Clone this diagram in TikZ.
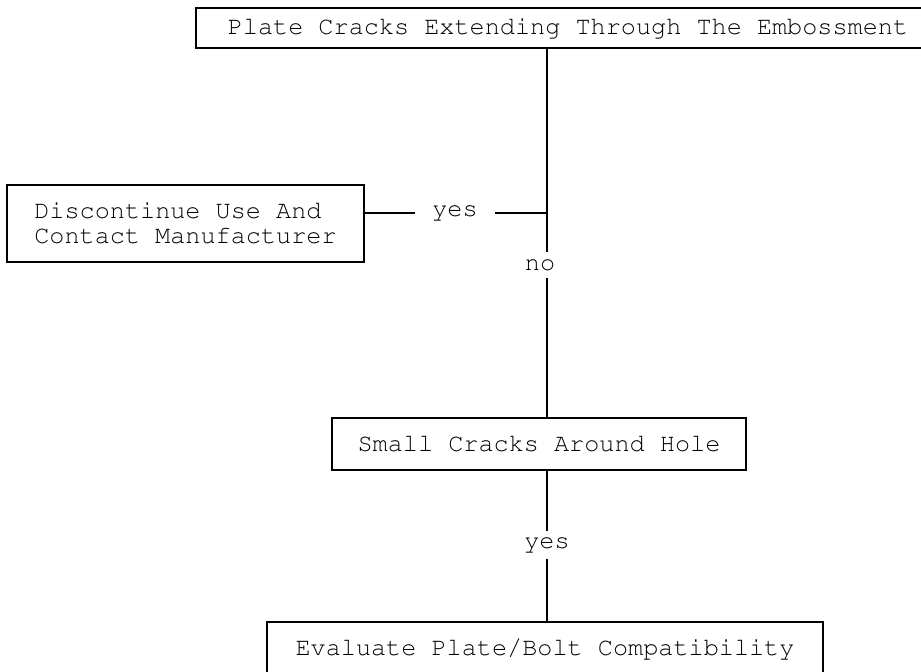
\documentclass[tikz,border=0pt]{standalone}
\usepackage[T1]{fontenc}
\usetikzlibrary{positioning}

\begin{document}
\begin{tikzpicture}[x=0.5pt,y=-0.5pt, line width=1pt,
  box/.style={draw, inner sep=0pt,
    font=\fontfamily{pcr}\fontsize{12.6}{12.5}\selectfont},
  lbl/.style={inner xsep=8pt, inner ysep=3pt,
    font=\fontfamily{pcr}\fontsize{12.6}{12.5}\selectfont}]

\useasboundingbox (0,0) rectangle (921,671);
\clip (0,0) rectangle (921,671);

% boxes
\node[box, minimum width=372pt, minimum height=20pt] (crack) at (568,28)
  {Plate Cracks Extending Through The Embossment};
\node[box, align=left, minimum width=178.5pt, minimum height=38.5pt] (stop) at (185.5,223.5)
  {Discontinue Use And\\Contact Manufacturer};
\node[box, minimum width=207pt, minimum height=26pt] (small) at (539,444)
  {Small Cracks Around Hole};
\node[box, minimum width=278pt, minimum height=27pt] (evaluate) at (545,649)
  {Evaluate Plate/Bolt Compatibility};

% labels
\node[lbl] (yesA) at (455,213) {yes};
\node[lbl] (noA) at (540,265) {no};
\node[lbl] (yesB) at (547,545) {yes};
\coordinate (junc) at (547,213);

% connectors
\draw (crack.south -| junc) -- (junc);
\draw (junc) -- (yesA) -- (stop.east |- yesA);
\draw (junc) -- (noA.north -| junc);
\draw (noA.south -| junc) -- (small.north -| junc);
\draw (small.south -| yesB) -- (yesB) -- (evaluate.north -| yesB);

\end{tikzpicture}
\end{document}
